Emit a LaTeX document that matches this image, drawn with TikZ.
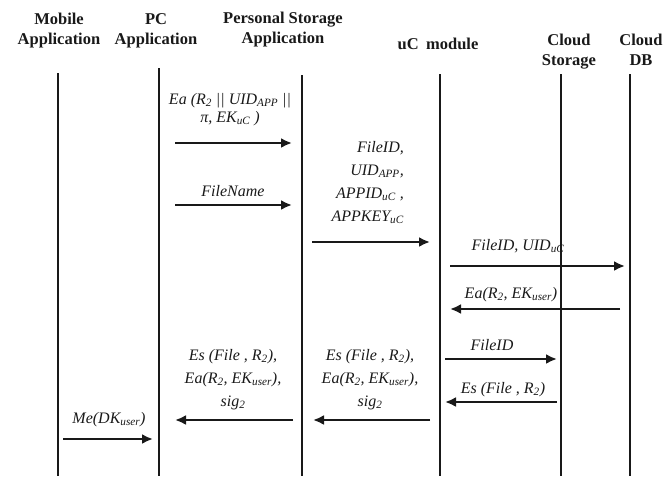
\documentclass[tikz,border=0pt]{standalone}
\usepackage{fontspec}
\setmainfont{Liberation Serif}
\usetikzlibrary{arrows.meta,positioning,calc}
\definecolor{inkdark}{RGB}{25,25,25}
\newcommand{\sub}[1]{\textsubscript{#1}}
\tikzset{
  actor/.style={font=\fontsize{16.5}{20}\selectfont\bfseries, align=center, inner sep=0pt, anchor=north, text=inkdark},
  lifeline/.style={draw=inkdark, line width=2.2pt},
  msg/.style={font=\fontsize{16}{23}\selectfont\itshape, align=center, inner sep=0pt, anchor=north, text=inkdark},
  arr/.style={-{Latex[length=11pt,width=10pt]}, draw=inkdark, line width=2.8pt},
}
\begin{document}
\begin{tikzpicture}[x=1pt, y=-1pt]
  \useasboundingbox (0,0) rectangle (666,479);
  % participants
  \node[actor] (mob) at (59,13) {Mobile\\Application};
  \node[actor] (pc) at (156,13) {PC\\Application};
  \node[actor] (psa) at (283,12) {Personal Storage\\Application};
  \node[actor, anchor=base] (uc) at (438,49) {uC\hspace{0.45em}module};
  \node[actor] (cs) at (569,34) {Cloud\\Storage};
  \node[actor] (db) at (641,34) {Cloud\\DB};
  % lifelines
  \foreach \n/\x/\t in {mob/58/73, pc/159/68, psa/302/75, uc/440/74, cs/561/74, db/630/74} {
    \coordinate (\n-top) at (\x,\t);
    \coordinate (\n-bot) at (\x,476);
    \draw[lifeline] (\n-top) -- (\n-bot);
  }
  % message end points
  \foreach \n/\xa/\xb/\y in {m1/175/292/143, m2/175/292/205, m3/312/430/242,
      m4/450/625/266, m5/620/450/309, m6/445/557/359, m7/557/445/402,
      m8/430/313/420, m9/293/175/420, m10/63/153/439} {
    \coordinate (\n-s) at (\xa,\y);
    \coordinate (\n-e) at (\xb,\y);
  }
  % messages
  \node[msg, font=\fontsize{16}{18}\selectfont\itshape] (l1) at (230,93) {Ea (R\sub{2} || UID\sub{APP} ||\\π, EK\sub{uC} )};
  \draw[arr] (m1-s) -- (m1-e);
  \node[msg] (l2) at (233,185) {FileName};
  \draw[arr] (m2-s) -- (m2-e);
  \node[msg, align=right, anchor=north east] (l3) at (404,141) {FileID,\\UID\sub{APP},\\APPID\sub{uC} ,\\APPKEY\sub{uC}};
  \draw[arr] (m3-s) -- (m3-e);
  \node[msg] (l4) at (518,239) {FileID, UID\sub{uC}};
  \draw[arr] (m4-s) -- (m4-e);
  \node[msg] (l5) at (511,287) {Ea(R\sub{2}, EK\sub{user})};
  \draw[arr] (m5-s) -- (m5-e);
  \node[msg] (l6) at (492,339) {FileID};
  \draw[arr] (m6-s) -- (m6-e);
  \node[msg] (l7) at (503,382) {Es (File , R\sub{2})};
  \draw[arr] (m7-s) -- (m7-e);
  \node[msg] (l8) at (370,349) {Es (File , R\sub{2}),\\Ea(R\sub{2}, EK\sub{user}),\\sig\sub{2}};
  \draw[arr] (m8-s) -- (m8-e);
  \node[msg] (l9) at (233,349) {Es (File , R\sub{2}),\\Ea(R\sub{2}, EK\sub{user}),\\sig\sub{2}};
  \draw[arr] (m9-s) -- (m9-e);
  \node[msg] (l10) at (109,412) {Me(DK\sub{user})};
  \draw[arr] (m10-s) -- (m10-e);
\end{tikzpicture}
\end{document}
